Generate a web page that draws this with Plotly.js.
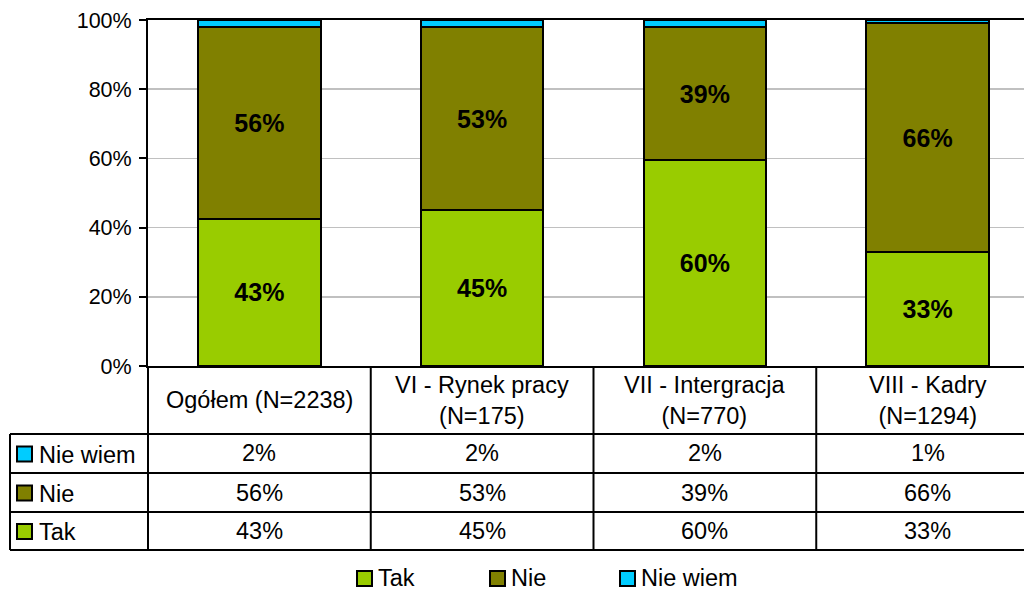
<!DOCTYPE html>
<html>
<head>
<meta charset="utf-8">
<script src="https://cdn.plot.ly/plotly-3.0.1.min.js"></script>
<style>
html,body{margin:0;padding:0;overflow:hidden;background:#fff;}
#chart{width:1060px;height:592px;}
</style>
</head>
<body>
<div id="chart"></div>
<script>
// ---- data ----
const categories = ['Ogółem (N=2238)', 'VI - Rynek pracy<br>(N=175)', 'VII - Intergracja<br>(N=770)', 'VIII - Kadry<br>(N=1294)'];
const seriesNames = ['Tak', 'Nie', 'Nie wiem'];
const tak = [43, 45, 60, 33];
const nie = [56, 53, 39, 66];
const nieWiem = [2, 2, 2, 1];
const yTicks = [0, 20, 40, 60, 80, 100];

// ---- style ----
const colors = {'Tak': '#99cc00', 'Nie': '#808000', 'Nie wiem': '#00ccff'};
const FONT = 'Liberation Sans, Arial, sans-serif';
const W = 1060, H = 592;
const L = 148, R = 21, T = 20, B = 226;
const plotW = W - L - R, plotH = H - T - B;
const px2x = p => (p - L) / plotW;
const py2y = p => (H - B - p) / plotH;

const seriesVals = [tak, nie, nieWiem];
const traces = seriesVals.map((vals, k) => ({
  type: 'bar',
  name: seriesNames[k],
  x: categories,
  y: vals,
  marker: {color: colors[seriesNames[k]], line: {color: '#000', width: 2}},
  text: k < 2 ? vals.map(v => '<b>' + v + '%</b>') : vals.map(() => ''),
  textposition: 'inside',
  insidetextanchor: 'middle',
  textfont: {family: FONT, size: 25, color: '#000'},
  hoverinfo: 'x+y+name',
  showlegend: false
}));

const shapes = [];
const annotations = [];
const line = (x0, y0, x1, y1) => shapes.push({type: 'line', xref: 'paper', yref: 'paper',
  x0: x0, y0: y0, x1: x1, y1: y1, line: {color: '#000', width: 2}});

// table geometry (pixels)
const rowLines = [434, 473, 512, 550];
const leftX = 10;
const n = categories.length;
rowLines.forEach(py => line(px2x(leftX), py2y(py), 1.02, py2y(py)));
for (let i = 0; i <= n; i++) line(i / n, 0, i / n, py2y(rowLines[3]));
line(px2x(leftX), py2y(rowLines[0]), px2x(leftX), py2y(rowLines[3]));

const TF = {family: FONT, size: 23.5, color: '#000'};
// header labels
categories.forEach((c, i) => annotations.push({xref: 'paper', yref: 'paper', x: (i + 0.5) / n, y: py2y(400),
  xanchor: 'center', yanchor: 'middle', text: c, showarrow: false, font: TF}));

// table rows: Nie wiem, Nie, Tak
const rowOrder = [2, 1, 0];
rowOrder.forEach((k, r) => {
  const yTop = rowLines[r], yBot = rowLines[r + 1];
  const yc = (yTop + yBot) / 2;
  shapes.push({type: 'rect', xref: 'paper', yref: 'paper', x0: px2x(17), x1: px2x(32),
    y0: py2y(yc - 7), y1: py2y(yc + 8), fillcolor: colors[seriesNames[k]], line: {color: '#000', width: 2}});
  annotations.push({xref: 'paper', yref: 'paper', x: px2x(37), y: py2y(yc + 1), xanchor: 'left', yanchor: 'middle',
    text: seriesNames[k], showarrow: false, font: TF});
  seriesVals[k].forEach((v, i) => annotations.push({xref: 'paper', yref: 'paper', x: (i + 0.5) / n, y: py2y(yc),
    xanchor: 'center', yanchor: 'middle', text: v + '%', showarrow: false, font: TF}));
});

// bottom legend
const legX = [357, 490, 620];
seriesNames.forEach((s, k) => {
  const yc = 578;
  shapes.push({type: 'rect', xref: 'paper', yref: 'paper', x0: px2x(legX[k]), x1: px2x(legX[k] + 15),
    y0: py2y(yc - 7), y1: py2y(yc + 8), fillcolor: colors[s], line: {color: '#000', width: 2}});
  annotations.push({xref: 'paper', yref: 'paper', x: px2x(legX[k] + 20), y: py2y(yc), xanchor: 'left', yanchor: 'middle',
    text: s, showarrow: false, borderpad: 0, font: TF});
});

const layout = {
  width: W, height: H,
  margin: {l: L, r: R, t: T, b: B, pad: 0},
  barmode: 'stack',
  barnorm: 'percent',
  bargap: 0.45,
  paper_bgcolor: '#fff', plot_bgcolor: '#fff',
  font: {family: FONT, size: 21, color: '#000'},
  xaxis: {type: 'category', showticklabels: false, ticks: '', showgrid: false, zeroline: false,
    showline: true, linecolor: '#000', linewidth: 2, mirror: true, fixedrange: true},
  yaxis: {range: [0, 100], tickvals: yTicks, ticktext: yTicks.map(v => v + '%'), ticks: 'outside', ticklen: 7,
    tickwidth: 2, tickcolor: '#000', showline: true, linecolor: '#000', linewidth: 2,
    showgrid: true, gridcolor: '#c0c0c0', gridwidth: 1.5, zeroline: false, ticklabelstandoff: 3,
    tickfont: {family: FONT, size: 21.5, color: '#000'}, fixedrange: true},
  shapes: shapes,
  annotations: annotations,
  showlegend: false
};

Plotly.newPlot('chart', traces, layout, {displayModeBar: false, staticPlot: true});
</script>
</body>
</html>
